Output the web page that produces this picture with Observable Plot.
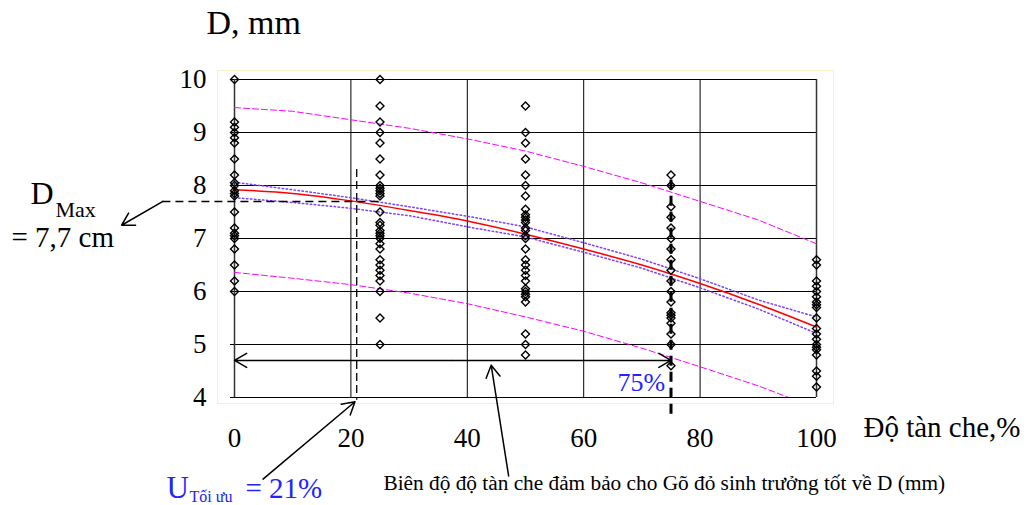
<!DOCTYPE html>
<html>
<head>
<meta charset="utf-8">
<script src="https://cdn.jsdelivr.net/npm/d3@7"></script>
<script src="https://cdn.jsdelivr.net/npm/@observablehq/plot@0.6"></script>
<style>
  body { margin: 0; background: #fff; }
  svg { display: block; }
  #chart svg text {
    font-family: 'Liberation Serif', 'Times New Roman', serif !important;
    font-variant: normal !important;
    font-variant-numeric: normal !important;
  }
</style>
</head>
<body>
<div id="chart"></div>
<script>
// Canopy cover levels (%) at which stem diameter D (mm) was measured
const coverLevels = [0, 25, 50, 75, 100];
const diam0   = [10.0, 9.2, 9.1, 9.0, 8.9, 8.8, 8.5, 8.2, 8.05, 8.0, 7.9, 7.85, 7.8, 7.5, 7.2, 7.1, 7.05, 7.0, 6.8, 6.5, 6.2, 6.0];
const diam25  = [10.0, 9.5, 9.2, 9.0, 8.8, 8.5, 8.2, 8.0, 7.95, 7.9, 7.85, 7.8, 7.5, 7.3, 7.25, 7.15, 7.1, 7.05, 7.0, 6.9, 6.8, 6.6, 6.5, 6.4, 6.3, 6.2, 6.0, 5.5, 5.0];
const diam50  = [9.5, 9.0, 8.8, 8.5, 8.2, 8.0, 7.8, 7.55, 7.45, 7.4, 7.35, 7.3, 7.2, 7.15, 7.05, 7.0, 6.8, 6.6, 6.5, 6.4, 6.3, 6.2, 6.05, 6.0, 5.95, 5.9, 5.8, 5.2, 5.0, 4.8];
const diam75  = [8.2, 8.0, 7.6, 7.4, 7.2, 7.0, 6.8, 6.6, 6.4, 6.2, 6.0, 5.8, 5.6, 5.55, 5.5, 5.4, 5.2, 5.0, 4.6];
const diam100 = [6.6, 6.5, 6.2, 6.1, 6.0, 5.9, 5.8, 5.75, 5.7, 5.5, 5.3, 5.2, 5.1, 5.0, 4.95, 4.9, 4.8, 4.5, 4.4, 4.2];
const diamByLevel = [diam0, diam25, diam50, diam75, diam100];

// Fitted curve with confidence band (dotted) and prediction band (dashed)
const curveCover = [0, 10, 20, 30, 40, 50, 60, 70, 80, 90, 100];
const fitD       = [7.92, 7.85, 7.71, 7.53, 7.33, 7.08, 6.80, 6.50, 6.15, 5.76, 5.33];
const confUpper  = [8.06, 7.92, 7.77, 7.60, 7.42, 7.22, 6.92, 6.61, 6.24, 5.84, 5.52];
const confLower  = [7.77, 7.68, 7.57, 7.43, 7.22, 7.03, 6.74, 6.44, 6.07, 5.67, 5.21];
const predUpper  = [9.47, 9.40, 9.24, 9.08, 8.88, 8.65, 8.36, 8.05, 7.70, 7.35, 6.90];
const predLower  = [6.36, 6.25, 6.13, 5.97, 5.77, 5.52, 5.25, 4.93, 4.58, 4.22, 3.80];

// Axis ticks
const xTicks = [0, 20, 40, 60, 80, 100];
const yTicks = [4, 5, 6, 7, 8, 9, 10];

// Key values marked on the chart
const dMax = 7.7;        // maximum D
const coverOpt = 21;     // optimal canopy cover
const coverLimit = 75;   // upper limit of the favourable range

const points = coverLevels.flatMap((c, i) => diamByLevel[i].map(d => ({cover: c, d})));
const curves = curveCover.map((c, i) => ({
  cover: c, fit: fitD[i], cu: confUpper[i], cl: confLower[i], pu: predUpper[i], pl: predLower[i]
}));

const serif = "Liberation Serif";
const mL = 234, mT = 79;

// Free text placed relative to the top-left corner of the frame (baseline given)
function label(str, left, baseline, size, fill = "black") {
  return Plot.text([str], {
    text: d => d, frameAnchor: "top-left", textAnchor: "start", lineAnchor: "middle",
    dx: left - mL, dy: baseline - mT - 0.32 * size,
    fontSize: size, fill, fontFamily: serif
  });
}

const chart = Plot.plot({
  width: 1028,
  height: 505,
  marginLeft: mL,
  marginRight: 212,
  marginTop: mT,
  marginBottom: 108,
  style: {fontFamily: serif, background: "white", overflow: "visible"},
  x: {domain: [0, 100]},
  y: {domain: [4, 10]},
  marks: [
    Plot.frame({stroke: "#f2f2c4", insetLeft: -17, insetRight: -17, insetTop: -9, insetBottom: -6}),
    Plot.gridX(xTicks, {stroke: "black", strokeOpacity: 1, strokeWidth: 1}),
    Plot.gridY(yTicks, {stroke: "black", strokeOpacity: 1, strokeWidth: 1}),
    Plot.ruleX([0, 100], {stroke: "#333", strokeWidth: 1.5}),
    Plot.axisY(yTicks, {tickSize: 4, tickPadding: 24, fontSize: 27, label: null, fontFamily: serif, fontVariant: "normal", tickFormat: d => String(d)}),
    Plot.axisX(xTicks, {tickSize: 0, tickPadding: 30, fontSize: 27, label: null, fontFamily: serif, fontVariant: "normal", tickFormat: d => String(d)}),

    // prediction band
    Plot.line(curves, {x: "cover", y: "pu", stroke: "#ff00ff", strokeWidth: 1, strokeDasharray: "6,3"}),
    Plot.line(curves, {x: "cover", y: "pl", stroke: "#ff00ff", strokeWidth: 1, strokeDasharray: "6,3", clip: true}),
    // confidence band
    Plot.line(curves, {x: "cover", y: "cu", stroke: "#8040ff", strokeWidth: 1.5, strokeDasharray: "1.5,2.5"}),
    Plot.line(curves, {x: "cover", y: "cl", stroke: "#8040ff", strokeWidth: 1.5, strokeDasharray: "1.5,2.5"}),
    // fitted curve
    Plot.line(curves, {x: "cover", y: "fit", stroke: "#ff0000", strokeWidth: 1.5, curve: "monotone-x"}),

    // D max guide
    Plot.ruleY([dMax], {x1: -12.3, x2: 25, stroke: "black", strokeWidth: 1.5, strokeDasharray: "8,5"}),
    Plot.arrow([dMax], {x1: -12.3, y1: d => d, x2: -19.4, y2: 7.25, stroke: "black", strokeWidth: 1.5, headLength: 14}),
    // optimal cover guide
    Plot.ruleX([coverOpt], {y1: 8.3, y2: 3.95, stroke: "black", strokeWidth: 1.3, strokeDasharray: "8,4"}),
    Plot.arrow([coverOpt], {x1: 4.9, y1: 2.46, x2: d => d - 0.3, y2: 3.92, stroke: "black", strokeWidth: 1.5, headLength: 14}),
    // upper limit guide
    Plot.ruleX([coverLimit], {y1: 8.1, y2: 3.66, stroke: "black", strokeWidth: 3, strokeDasharray: "10,6"}),
    // favourable range (double-headed)
    Plot.arrow([coverLimit], {x1: d => d / 2, y1: 4.7, x2: 0, y2: 4.7, stroke: "black", strokeWidth: 1.5, headLength: 14}),
    Plot.arrow([coverLimit], {x1: d => d / 2, y1: 4.7, x2: d => d, y2: 4.7, stroke: "black", strokeWidth: 1.5, headLength: 14}),
    Plot.arrow([0], {x1: 47.1, y1: 2.52, x2: 44.1, y2: 4.61, stroke: "black", strokeWidth: 1.5, headLength: 14}),

    // observations
    Plot.dot(points, {x: "cover", y: "d", symbol: "diamond2", r: 3.6, stroke: "black", strokeWidth: 1.4, fill: "none"}),

    // titles and notes
    label("D, mm", 206, 33, 34),
    label("Độ tàn che,%", 863, 436, 29),
    label("D", 30, 203, 32),
    label("Max", 55, 216, 22),
    label("= 7,7 cm", 11, 246, 29),
    label(`${coverLimit}%`, 617, 390, 26, "#2323ff"),
    label("U", 166, 497, 31, "#2323ff"),
    label("Tối ưu", 189, 501, 16, "#2323ff"),
    label(`= ${coverOpt}%`, 245, 497, 29, "#2323ff"),
    label("Biên độ độ tàn che đảm bảo cho Gõ đỏ sinh trưởng tốt về D (mm)", 383, 489, 21.3)
  ]
});

document.getElementById("chart").appendChild(chart);
</script>
</body>
</html>
